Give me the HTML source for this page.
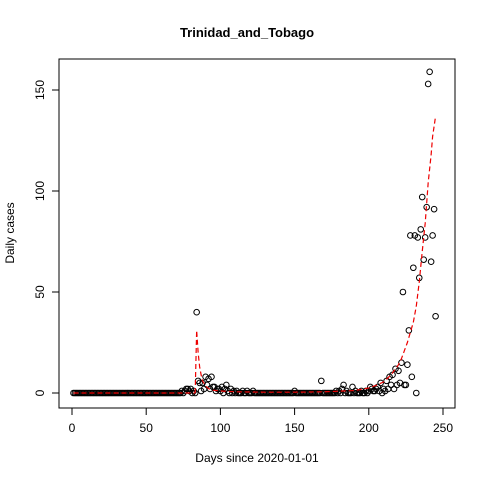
<!DOCTYPE html>
<html><head><meta charset="utf-8"><style>
body{margin:0;background:#fff;}
svg{display:block;font-family:"Liberation Sans",Arial,sans-serif;}
</style></head><body>
<svg id="chart" width="480" height="480">
<text x="247" y="37" text-anchor="middle" font-size="13" font-weight="bold">Trinidad_and_Tobago</text>
<text x="257" y="462" text-anchor="middle" font-size="12">Days since 2020-01-01</text>
<text transform="translate(14,233) rotate(-90)" text-anchor="middle" font-size="12">Daily cases</text>
<rect x="59" y="59" width="396" height="349" fill="none" stroke="#000"/>
<g id="axes"></g><g id="pts"></g><g id="fit"></g>
</svg>
<script>
const xTicks=[0,50,100,150,200,250];
const yTicks=[0,50,100,150];
const nonzeroDays=[74,76,77,78,79,80,82,84,85,86,87,88,89,90,91,92,93,94,95,96,97,98,99,100,101,103,104,105,107,109,111,115,118,122,150,168,178,180,182,183,185,189,191,195,198,200,201,202,203,204,205,206,207,208,210,211,212,213,214,215,216,217,218,219,220,221,222,223,224,225,226,227,228,229,230,231,233,234,235,236,237,238,239,240,241,242,243,244,245];
const nonzeroVals=[1,1,2,2,1,2,1,40,6,5,1,5,2,8,4,7,2,8,3,3,1,2,2,1,3,2,4,1,2,1,1,1,1,1,1,6,1,1,2,4,1,3,1,1,1,1,3,2,1,1,2,3,1,5,2,1,6,2,8,4,9,2,12,4,11,5,15,50,4,4,14,31,78,8,62,78,77,57,81,97,66,77,92,153,159,65,78,91,38];
const fitDays=[83,84,85,86,87,88,90,92,95,100,110,130,150,170,190,195,200,205,210,215,220,222,224,226,228,230,232,234,236,238,240,242,243,244,245];
const fitVals=[0,31,20,13,9,6,3.5,2.2,1.4,1,0.6,0.4,0.4,0.6,1.2,1.8,2.5,3.8,5.5,9,14,17,21,25,30,35,43,55,70,84,104,118,127,132,137];
const X=d=>72+d*1.484, Y=v=>393-v*2.02;
const NS='http://www.w3.org/2000/svg';
const ax=document.getElementById('axes');
function mk(tag,at,parent){const e=document.createElementNS(NS,tag);for(const k in at)e.setAttribute(k,at[k]);parent.appendChild(e);return e;}
xTicks.forEach(t=>{
 const l=mk('line',{x1:X(t),x2:X(t),y1:408,y2:415,stroke:'#000'},ax);
 
 
 const tx=mk('text',{x:X(t),y:432,'text-anchor':'middle','font-size':12},ax);tx.textContent=t;
 
 
});
yTicks.forEach(t=>{
 const l=mk('line',{x1:52,x2:59,y1:Y(t),y2:Y(t),stroke:'#000'},ax);
 
 
 const tx=mk('text',{transform:`translate(44,${Y(t)}) rotate(-90)`,'text-anchor':'middle','font-size':12},ax);tx.textContent=t;
 
 
});
const pg=document.getElementById('pts');
for(let d=1;d<=245;d++){
 const i=nonzeroDays.indexOf(d);const v=i<0?0:nonzeroVals[i];
 const c=mk('circle',{cx:X(d),cy:Y(v),r:2.8,fill:'none',stroke:'#000','stroke-width':1},pg);
 
 
}
const fg=document.getElementById('fit');
const p1=mk('polyline',{points:[[1,0],[83,0]].map(p=>X(p[0])+','+Y(p[1])).join(' '),fill:'none',stroke:'#e00','stroke-width':1.2,'stroke-dasharray':'5,3'},fg);


const p2=mk('polyline',{points:fitDays.map((d,i)=>X(d)+','+Y(fitVals[i])).join(' '),fill:'none',stroke:'#e00','stroke-width':1.2,'stroke-dasharray':'5,3'},fg);


</script>
</body></html>
